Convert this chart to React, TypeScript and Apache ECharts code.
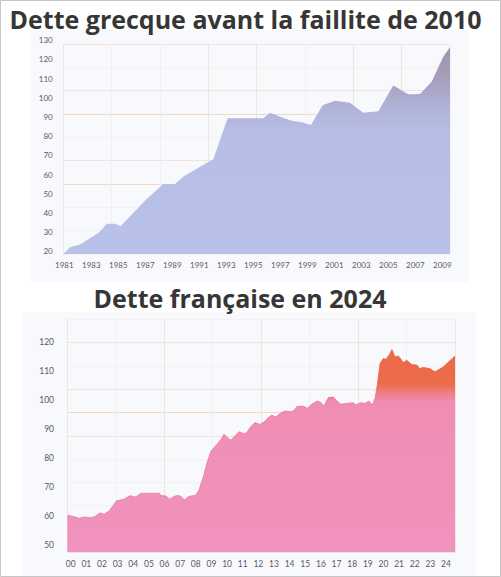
import React, { useEffect, useRef } from 'react';
import * as echarts from 'echarts';

const greekTitle = 'Dette grecque avant la faillite de 2010';
const frenchTitle = 'Dette française en 2024';

// Greek debt (% of GDP), positions in decimal years
const greekYears = [1980.93, 1981.42, 1982.16, 1982.9, 1983.64, 1984.14, 1984.76, 1985.18, 1987.03, 1988.33, 1989.2, 1989.81, 1991.05, 1992.04, 1993.1, 1995.74, 1996.24, 1996.98, 1997.84, 1998.59, 1999.27, 2000.14, 2001.05, 2002.16, 2003.15, 2004.26, 2005.37, 2006.48, 2007.35, 2008.21, 2009.07, 2009.57];
const greekDebt = [18.6, 22.1, 23.6, 26.8, 30.2, 34.4, 34.4, 33.2, 46.8, 55.1, 55.1, 58.9, 64.1, 68.0, 89.4, 89.4, 92.3, 90.2, 88.1, 87.3, 85.9, 96.1, 98.5, 97.5, 92.3, 93.0, 106.5, 101.9, 102.0, 108.4, 121.5, 126.4];

// French debt (% of GDP)
const frYears = [1999.78, 2000.21, 2000.53, 2000.85, 2001.28, 2001.53, 2001.87, 2002.12, 2002.44, 2002.93, 2003.4, 2003.76, 2004.15, 2004.46, 2004.89, 2005.63, 2005.78, 2006.06, 2006.33, 2006.59, 2006.84, 2007.05, 2007.27, 2007.48, 2007.97, 2008.18, 2008.46, 2008.71, 2008.93, 2009.09, 2009.41, 2009.63, 2009.78, 2009.95, 2010.2, 2010.48, 2010.75, 2011.01, 2011.22, 2011.48, 2011.75, 2012.07, 2012.33, 2012.6, 2012.82, 2013.09, 2013.35, 2013.67, 2014.03, 2014.2, 2014.45, 2014.83, 2015.09, 2015.37, 2015.73, 2015.94, 2016.15, 2016.43, 2016.75, 2016.92, 2017.22, 2017.6, 2018.02, 2018.2, 2018.45, 2018.77, 2019.02, 2019.23, 2019.41, 2019.55, 2019.73, 2019.94, 2020.11, 2020.32, 2020.49, 2020.68, 2020.89, 2021.0, 2021.21, 2021.43, 2021.75, 2022.1, 2022.23, 2022.49, 2022.91, 2023.23, 2023.76, 2024.51];
const frDebt = [60.3, 59.8, 59.2, 59.7, 59.4, 59.8, 61.1, 60.6, 61.7, 65.3, 65.8, 67.0, 66.6, 67.8, 67.9, 67.9, 67.1, 66.9, 65.8, 66.8, 67.1, 66.7, 65.5, 66.7, 67.2, 69.0, 73.6, 78.7, 82.2, 83.3, 85.3, 86.8, 88.3, 87.3, 86.2, 87.7, 89.1, 88.5, 88.7, 90.8, 92.3, 91.6, 92.5, 94.0, 94.8, 94.2, 95.4, 96.3, 96.0, 96.3, 97.9, 97.9, 97.2, 98.6, 99.7, 99.2, 98.0, 100.9, 101.1, 100.0, 98.6, 98.9, 99.1, 98.3, 99.1, 98.9, 99.7, 98.3, 100.6, 105.2, 112.7, 114.4, 114.1, 115.7, 117.5, 114.9, 115.3, 114.6, 113.0, 113.8, 112.3, 112.1, 110.9, 111.3, 110.9, 109.8, 111.5, 115.3];

// tick labels
const greekYearTicks = { min: 1981, max: 2009, step: 2 };
const greekPctTicks = { min: 20, max: 130, step: 10 };
const frYearTicks = { min: 2000, max: 2024, step: 1 };
const frPctTicks = { min: 50, max: 120, step: 10 };

const LIGHT = '#f4f0ed';
const PEACH = '#f3e4d8';
const ORANGE = '#f2d8c4';

const labelFont = { fontFamily: 'Lato', fontSize: 8, color: '#5e5a58' };

function decoAxis(gridIndex: number, n: number, colors: string[]) {
  return {
    gridIndex,
    type: 'value',
    min: 0,
    max: n,
    interval: 1,
    axisLine: { show: false },
    axisTick: { show: false },
    axisLabel: { show: false },
    splitLine: { show: true, lineStyle: { color: colors, width: 1 } },
  };
}

function dataAxis(gridIndex: number, min: number, max: number) {
  return { gridIndex, type: 'value', min, max, show: false };
}

function labelAxis(gridIndex: number, t: { min: number; max: number; step: number }, margin: number, fmt: (v: number) => string, fontSize: number) {
  return {
    gridIndex,
    type: 'value',
    min: t.min,
    max: t.max,
    interval: t.step,
    axisLine: { show: false },
    axisTick: { show: false },
    splitLine: { show: false },
    axisLabel: { ...labelFont, fontSize, lineHeight: fontSize, margin, formatter: fmt, showMinLabel: true, showMaxLabel: true },
  };
}

export default function App() {
  const ref = useRef<HTMLDivElement>(null);
  useEffect(() => {
    document.body.style.margin = '0';
    if (!ref.current) return;
    const chart = echarts.init(ref.current, undefined, { renderer: 'svg' });
    const greekData = greekYears.map((y, i) => [y, greekDebt[i]]);
    const frData = frYears.map((y, i) => [y, frDebt[i]]);
    const option: any = {
      animation: false,
      backgroundColor: '#ffffff',
      graphic: [
        { type: 'rect', z: -10, silent: true, shape: { x: 30, y: 30, width: 439, height: 252 }, style: { fill: '#f8f9fd' } },
        { type: 'rect', z: -10, silent: true, shape: { x: 22, y: 312, width: 454, height: 266 }, style: { fill: '#f8f9fd' } },
        { type: 'rect', z: 100, silent: true, shape: { x: 0.5, y: 0.5, width: 500, height: 576 }, style: { fill: 'none', stroke: '#c6c6c6', lineWidth: 1 } },
        { type: 'text', z: 100, x: 245.5, y: 19, style: { text: greekTitle, fill: '#363636', fontFamily: 'Open Sans', fontWeight: 'bold', fontSize: 25, lineHeight: 25, align: 'center', verticalAlign: 'middle' } },
        { type: 'text', z: 100, x: 240, y: 298, style: { text: frenchTitle, fill: '#363636', fontFamily: 'Open Sans', fontWeight: 'bold', fontSize: 25, lineHeight: 25, align: 'center', verticalAlign: 'middle' } },
      ],
      grid: [
        { left: 63.3, top: 44, width: 386.7, height: 210 },
        { left: 64.3, top: 40.3, width: 378, height: 211 },
        { left: 67.3, top: 319.3, width: 387.7, height: 233 },
        { left: 70.7, top: 342.3, width: 375.3, height: 202.7 },
      ],
      xAxis: [
        decoAxis(0, 8, [PEACH, LIGHT, LIGHT, PEACH, PEACH, LIGHT, PEACH, PEACH, LIGHT]),
        dataAxis(0, 1980.93, 2009.57),
        labelAxis(1, greekYearTicks, 10, (v: number) => String(v), 8),
        decoAxis(2, 8, [PEACH, LIGHT, PEACH, LIGHT, PEACH, LIGHT, PEACH, LIGHT, PEACH]),
        dataAxis(2, 1999.78, 2024.51),
        labelAxis(3, frYearTicks, 14.5, (v: number) => String(v % 100).padStart(2, '0'), 8.5),
      ],
      yAxis: [
        decoAxis(0, 9, [LIGHT, LIGHT, LIGHT, ORANGE, PEACH, LIGHT, ORANGE, PEACH, LIGHT, PEACH]),
        dataAxis(0, 18.6, 128.1),
        labelAxis(1, greekPctTicks, 11.6, (v: number) => String(v), 8),
        decoAxis(2, 10, [LIGHT, LIGHT, LIGHT, LIGHT, LIGHT, PEACH, ORANGE, PEACH, LIGHT, PEACH, LIGHT]),
        dataAxis(2, 47.48, 127.93),
        labelAxis(3, frPctTicks, 16.7, (v: number) => String(v), 8.5),
      ],
      series: [
        {
          type: 'line',
          xAxisIndex: 1,
          yAxisIndex: 1,
          data: greekData,
          symbol: 'none',
          lineStyle: { width: 0 },
          areaStyle: {
            origin: 'start',
            opacity: 1,
            color: new echarts.graphic.LinearGradient(0, 0, 0, 1, [
              { offset: 0, color: '#a094ad' },
              { offset: 0.14, color: '#a69db9' },
              { offset: 0.28, color: '#b0b1d7' },
              { offset: 0.42, color: '#b7bee5' },
              { offset: 1, color: '#b9c1e8' },
            ]),
          },
          z: 3,
        },
        {
          type: 'line',
          xAxisIndex: 4,
          yAxisIndex: 4,
          data: frData,
          symbol: 'none',
          lineStyle: {
            width: 0.8,
            color: new echarts.graphic.LinearGradient(0, 0, 0, 1, [
              { offset: 0, color: '#e8623f' },
              { offset: 0.18, color: '#e8643f' },
              { offset: 0.24, color: '#e9748e' },
              { offset: 1, color: '#ea7a9f' },
            ]),
          },
          areaStyle: {
            origin: 'start',
            opacity: 1,
            color: new echarts.graphic.LinearGradient(0, 0, 0, 1, [
              { offset: 0, color: '#ec6a48' },
              { offset: 0.17, color: '#ec6b4b' },
              { offset: 0.21, color: '#ee7c80' },
              { offset: 0.26, color: '#f08db4' },
              { offset: 1, color: '#f093be' },
            ]),
          },
          z: 3,
        },
      ],
    };
    chart.setOption(option);
    return () => chart.dispose();
  }, []);
  return <div ref={ref} style={{ width: 501, height: 577 }} />;
}
